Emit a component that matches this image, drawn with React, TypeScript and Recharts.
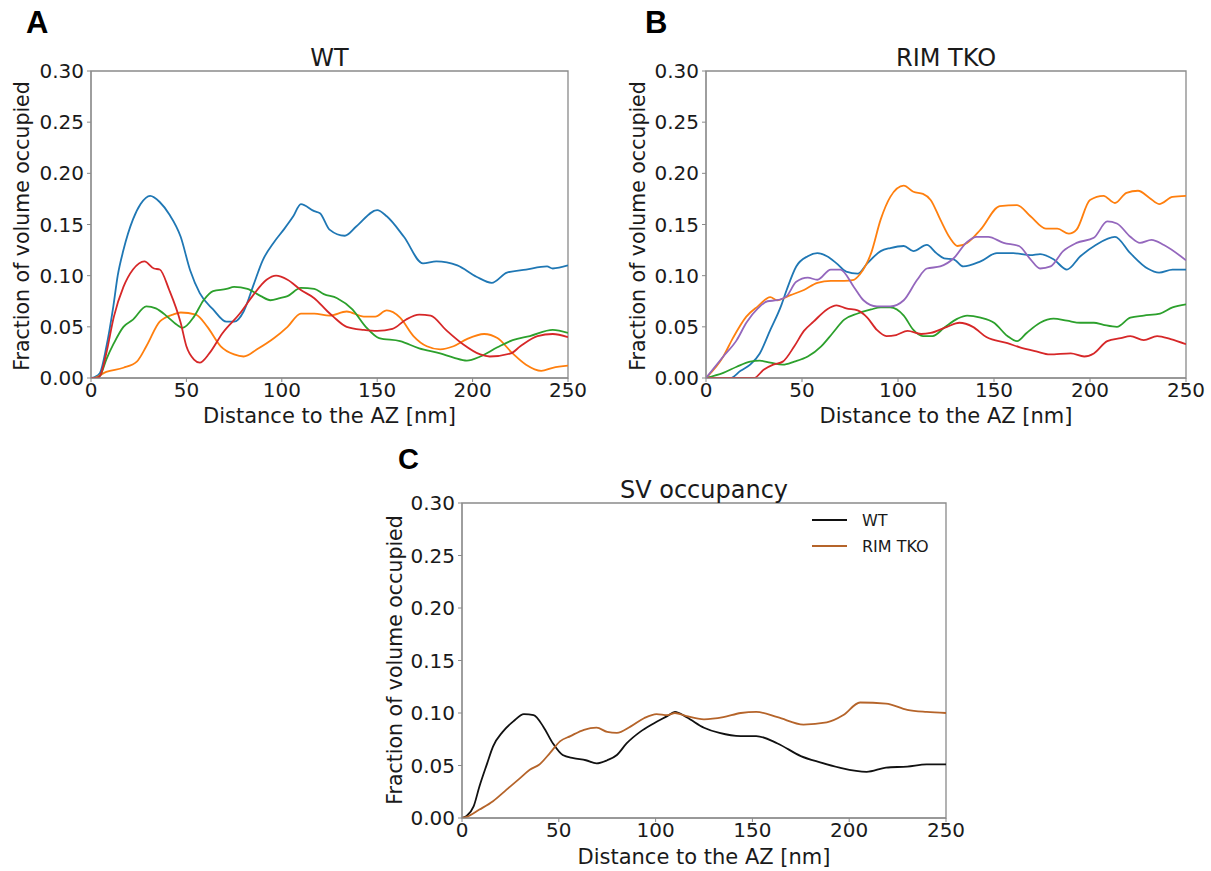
import React from 'react';
import { LineChart, Line, XAxis, YAxis, ReferenceArea } from 'recharts';

// ---- Data (x: distance to AZ [nm], y: fraction of volume occupied) ----
const xTicks = [0, 50, 100, 150, 200, 250];
const yTicks = [0, 0.05, 0.1, 0.15, 0.2, 0.25, 0.3];

const wtBlue: [number, number][] = [[0,0],[2,0.001],[4.7,0.005],[8,0.03],[11.7,0.07],[14,0.1],[17,0.125],[22,0.155],[26,0.17],[31,0.178],[36,0.172],[41,0.16],[47,0.138],[52,0.105],[57,0.083],[64,0.067],[71,0.055],[75,0.055],[80,0.065],[85,0.09],[90,0.115],[96,0.133],[101,0.145],[106,0.158],[110,0.17],[117,0.163],[120,0.161],[125,0.145],[133,0.139],[139,0.148],[150,0.164],[155,0.158],[164,0.138],[174,0.112],[181,0.114],[192,0.11],[202,0.099],[210,0.093],[218,0.103],[228,0.106],[239,0.109],[242,0.107],[250,0.11]];
const wtOrange: [number, number][] = [[0,0],[1,0],[8,0.006],[17,0.01],[24,0.016],[29,0.031],[36,0.055],[43,0.062],[47,0.064],[55,0.062],[61,0.05],[68,0.031],[75,0.023],[80,0.021],[87,0.028],[96,0.039],[103,0.05],[110,0.063],[117,0.063],[125,0.061],[134,0.065],[143,0.06],[149,0.06],[155,0.066],[162,0.059],[169,0.041],[176,0.031],[183,0.028],[190,0.031],[197,0.038],[206,0.043],[213,0.039],[221,0.024],[228,0.013],[236,0.007],[242,0.01],[250,0.012]];
const wtGreen: [number, number][] = [[0,0],[3,0],[5,0.003],[8,0.018],[12,0.034],[17,0.05],[22,0.057],[29,0.07],[34,0.068],[40,0.06],[45,0.052],[48,0.049],[54,0.06],[59,0.076],[64,0.085],[71,0.087],[75,0.089],[82,0.087],[89,0.08],[94,0.076],[99,0.078],[103,0.08],[110,0.088],[117,0.087],[122,0.082],[129,0.078],[137,0.067],[144,0.05],[151,0.039],[162,0.036],[172,0.029],[183,0.024],[190,0.02],[197,0.017],[204,0.021],[213,0.03],[221,0.037],[230,0.041],[242,0.047],[250,0.044]];
const wtRed: [number, number][] = [[0,0],[3,0],[5,0.003],[8,0.024],[12,0.06],[17,0.089],[22,0.106],[28,0.114],[33,0.107],[36,0.106],[41,0.086],[47,0.054],[50,0.031],[54,0.018],[57,0.015],[62,0.024],[69,0.044],[78,0.063],[85,0.081],[92,0.096],[97,0.1],[103,0.096],[110,0.086],[117,0.078],[124,0.065],[127,0.06],[134,0.05],[143,0.047],[150,0.046],[158,0.048],[165,0.057],[172,0.062],[178,0.061],[186,0.047],[195,0.033],[204,0.023],[209,0.021],[220,0.024],[225,0.031],[234,0.041],[242,0.043],[250,0.04]];

const tkoBlue: [number, number][] = [[0,0],[12.7,0],[18,0.007],[23,0.013],[28,0.024],[33.5,0.047],[39,0.07],[42,0.086],[47,0.109],[53,0.119],[58,0.122],[63,0.119],[68,0.112],[73,0.104],[79,0.102],[84,0.112],[91,0.124],[96,0.127],[103,0.129],[108,0.124],[115,0.13],[120,0.122],[124,0.117],[129,0.116],[134,0.109],[143,0.114],[151.5,0.122],[160,0.122],[169,0.12],[174,0.121],[181,0.116],[188,0.106],[195,0.119],[203,0.13],[213,0.138],[221,0.122],[230,0.107],[236,0.103],[243,0.106],[250,0.106]];
const tkoOrange: [number, number][] = [[0,0],[9,0.021],[14,0.039],[21,0.06],[27,0.07],[33.5,0.079],[37,0.076],[44,0.081],[51,0.086],[58,0.093],[65,0.095],[72,0.095],[77,0.096],[80,0.101],[86,0.122],[91,0.155],[96,0.177],[103,0.188],[108,0.182],[113,0.18],[117,0.174],[122,0.155],[127,0.137],[131,0.129],[136,0.132],[143,0.145],[153,0.168],[162,0.169],[169,0.158],[177,0.146],[183,0.146],[189,0.141],[193,0.145],[200,0.174],[207,0.178],[213,0.171],[219,0.181],[225,0.183],[231,0.176],[236,0.17],[243,0.177],[250,0.178]];
const tkoGreen: [number, number][] = [[0,0],[9,0.005],[16,0.011],[23,0.016],[28,0.017],[33.5,0.015],[40,0.013],[46,0.016],[53,0.021],[60,0.031],[66,0.044],[72,0.057],[79,0.063],[86,0.067],[91,0.069],[96,0.069],[103,0.061],[108,0.047],[113,0.041],[118,0.041],[124,0.049],[131,0.058],[136,0.061],[143,0.059],[150,0.054],[157,0.041],[162,0.036],[167,0.044],[174,0.054],[181,0.058],[188,0.056],[195,0.054],[202,0.054],[207,0.052],[214,0.05],[221,0.059],[228,0.061],[236.5,0.063],[243,0.069],[250,0.072]];
const tkoRed: [number, number][] = [[0,0],[25,0],[30,0.008],[35,0.013],[40,0.016],[46,0.031],[51,0.046],[56,0.055],[63,0.067],[68,0.071],[73,0.068],[79,0.066],[84,0.059],[89,0.047],[94,0.041],[99,0.042],[105,0.046],[112,0.043],[117,0.044],[125.5,0.05],[132,0.054],[139,0.05],[146,0.04],[157,0.034],[163.5,0.03],[172,0.026],[179,0.023],[190,0.024],[197,0.021],[202,0.024],[209,0.036],[216,0.039],[221,0.041],[228,0.037],[235,0.041],[242,0.038],[250,0.033]];
const tkoPurple: [number, number][] = [[0,0],[9,0.021],[16,0.037],[21,0.054],[27,0.068],[32,0.075],[37,0.076],[42,0.08],[47,0.094],[53,0.098],[58,0.096],[65,0.106],[70,0.106],[77,0.089],[82,0.076],[89,0.07],[96,0.07],[103,0.076],[110,0.096],[115,0.107],[122,0.109],[129,0.117],[136,0.133],[141,0.138],[147,0.138],[155,0.132],[163,0.129],[169,0.116],[174,0.107],[179.5,0.109],[186,0.124],[193,0.132],[202,0.137],[209,0.153],[214,0.151],[221,0.138],[226,0.132],[232,0.135],[238.5,0.13],[250,0.115]];

const svWT: [number, number][] = [[0,0],[2.4,0.002],[6,0.011],[9,0.03],[13,0.052],[16,0.068],[21,0.082],[26.5,0.092],[32,0.099],[37,0.098],[42,0.087],[47,0.071],[52,0.06],[57.5,0.057],[64,0.055],[69.5,0.052],[75,0.055],[80,0.06],[85,0.071],[92,0.082],[99,0.09],[106,0.097],[110,0.101],[116,0.096],[125,0.086],[133,0.081],[144,0.078],[152,0.078],[163,0.071],[175,0.059],[185,0.053],[195,0.048],[209,0.044],[219,0.048],[230,0.049],[240,0.051],[250,0.051]];
const svTKO: [number, number][] = [[0,0],[2.4,0.001],[9,0.008],[16,0.016],[23,0.027],[30,0.038],[35,0.046],[40,0.051],[45.5,0.062],[50.6,0.073],[56,0.078],[63,0.084],[69.5,0.086],[75,0.082],[80,0.081],[87,0.087],[94,0.095],[100.5,0.099],[106,0.098],[110,0.1],[116,0.097],[125,0.094],[135,0.096],[144,0.1],[152,0.101],[163,0.096],[176.4,0.089],[188.4,0.091],[197,0.098],[205.6,0.11],[219,0.109],[230,0.103],[240,0.101],[250,0.1]];

const legendNames = ['WT', 'RIM TKO'];

const C_BLUE = '#1f77b4';
const C_ORANGE = '#ff7f0e';
const C_GREEN = '#2ca02c';
const C_RED = '#d62728';
const C_PURPLE = '#9467bd';
const C_BLACK = '#111111';
const C_BROWN = '#b5642a';
const AXIS = '#8a8a8a';
const FONT = 'DejaVu Sans, sans-serif';

const toPts = (arr: [number, number][]) => arr.map(([x, y]) => ({ x, y }));

type Series = { name: string; data: [number, number][]; color: string };

function Panel(props: {
  left: number; top: number; width: number; height: number;
  margin: { top: number; right: number; bottom: number; left: number };
  series: Series[];
}) {
  const { left, top, width, height, margin, series } = props;
  return (
    <div style={{ position: 'absolute', left, top, width, height }}>
      <LineChart width={width} height={height} margin={margin}>
        <XAxis
          dataKey="x" type="number" domain={[0, 250]} ticks={xTicks}
          allowDataOverflow height={30}
          stroke={AXIS} tickSize={4} tickMargin={1}
          tick={{ fontSize: 20, fill: '#1a1a1a', fontFamily: FONT }}
          tickLine={{ stroke: AXIS }}
        />
        <YAxis
          type="number" domain={[0, 0.3]} ticks={yTicks} width={60}
          allowDataOverflow
          tickFormatter={(v: number) => v.toFixed(2)}
          stroke={AXIS} tickSize={4} tickMargin={3}
          tick={{ fontSize: 20, fill: '#1a1a1a', fontFamily: FONT }}
          tickLine={{ stroke: AXIS }}
        />
        <ReferenceArea x1={0} x2={250} y1={0} y2={0.3} fill="none" stroke={AXIS} strokeWidth={1.3} ifOverflow="visible" />
        {series.map((s) => (
          <Line
            key={s.name} name={s.name} data={toPts(s.data)} dataKey="y"
            type="monotone" stroke={s.color} strokeWidth={1.8} dot={false}
            isAnimationActive={false}
          />
        ))}
      </LineChart>
    </div>
  );
}

export default function App() {
  const txt = { fontFamily: FONT, fill: '#1a1a1a' } as const;
  const bold = 'Liberation Sans, Arial, sans-serif';
  const legendColors = [C_BLACK, C_BROWN];
  return (
    <div style={{ position: 'absolute', left: 0, top: 0, width: 1211, height: 871, background: '#fff', overflow: 'hidden' }}>
      <Panel
        left={0} top={0} width={600} height={440}
        margin={{ top: 71, right: 32, left: 31, bottom: 32 }}
        series={[
          { name: 'blue', data: wtBlue, color: C_BLUE },
          { name: 'orange', data: wtOrange, color: C_ORANGE },
          { name: 'green', data: wtGreen, color: C_GREEN },
          { name: 'red', data: wtRed, color: C_RED },
        ]}
      />
      <Panel
        left={610} top={0} width={600} height={440}
        margin={{ top: 71, right: 24, left: 36, bottom: 32 }}
        series={[
          { name: 'blue', data: tkoBlue, color: C_BLUE },
          { name: 'orange', data: tkoOrange, color: C_ORANGE },
          { name: 'green', data: tkoGreen, color: C_GREEN },
          { name: 'red', data: tkoRed, color: C_RED },
          { name: 'purple', data: tkoPurple, color: C_PURPLE },
        ]}
      />
      <Panel
        left={370} top={440} width={600} height={430}
        margin={{ top: 63, right: 24, left: 32, bottom: 22 }}
        series={[
          { name: legendNames[0], data: svWT, color: C_BLACK },
          { name: legendNames[1], data: svTKO, color: C_BROWN },
        ]}
      />
      <svg width={1211} height={871} style={{ position: 'absolute', left: 0, top: 0, pointerEvents: 'none' }}>
        {/* panel letters */}
        <text x={26} y={33} fontSize={31} fontWeight="bold" fontFamily={bold} fill="#000">A</text>
        <text x={645} y={33} fontSize={31} fontWeight="bold" fontFamily={bold} fill="#000">B</text>
        <text x={398} y={469} fontSize={29} fontWeight="bold" fontFamily={bold} fill="#000">C</text>
        {/* titles */}
        <text x={329.5} y={66} fontSize={24} textAnchor="middle" {...txt}>WT</text>
        <text x={946} y={66} fontSize={24} textAnchor="middle" {...txt}>RIM TKO</text>
        <text x={704} y={498} fontSize={24} textAnchor="middle" {...txt}>SV occupancy</text>
        {/* x labels */}
        <text x={329.5} y={423} fontSize={21} textAnchor="middle" {...txt}>Distance to the AZ [nm]</text>
        <text x={946} y={423} fontSize={21} textAnchor="middle" {...txt}>Distance to the AZ [nm]</text>
        <text x={704} y={864} fontSize={21} textAnchor="middle" {...txt}>Distance to the AZ [nm]</text>
        {/* y labels */}
        <text x={0} y={0} fontSize={20.5} textAnchor="middle" dominantBaseline="central" transform="translate(22,226) rotate(-90)" {...txt}>Fraction of volume occupied</text>
        <text x={0} y={0} fontSize={20.5} textAnchor="middle" dominantBaseline="central" transform="translate(638,226) rotate(-90)" {...txt}>Fraction of volume occupied</text>
        <text x={0} y={0} fontSize={20.5} textAnchor="middle" dominantBaseline="central" transform="translate(395,660) rotate(-90)" {...txt}>Fraction of volume occupied</text>
        {/* legend of panel C */}
        {legendNames.map((n, i) => (
          <g key={n} transform={`translate(812, ${520 + i * 26})`}>
            <line x1={0} x2={35} y1={0} y2={0} stroke={legendColors[i]} strokeWidth={2} />
            <text x={50} y={6} fontSize={16} {...txt}>{n}</text>
          </g>
        ))}
      </svg>
    </div>
  );
}
